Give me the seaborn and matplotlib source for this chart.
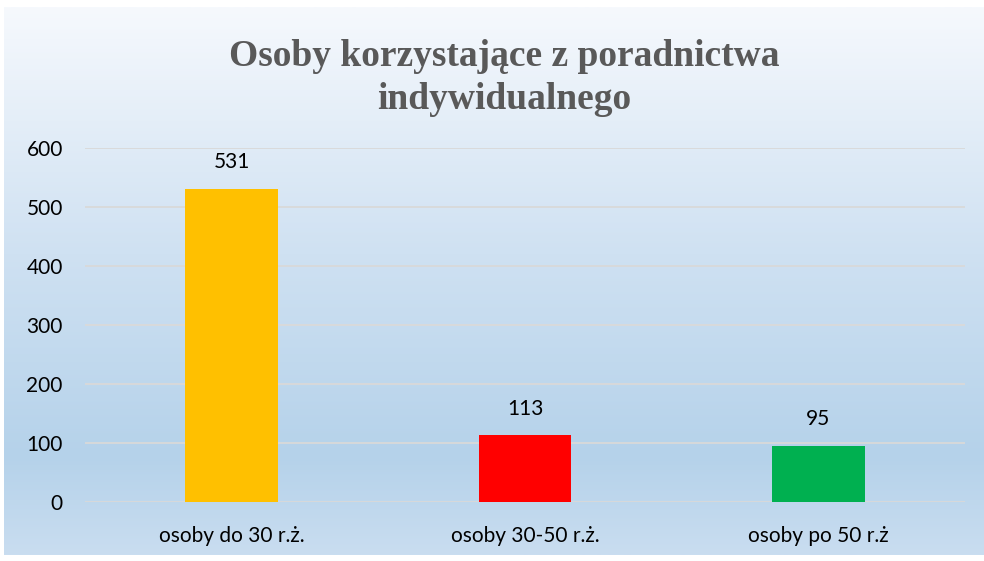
import numpy as np
import pandas as pd
import seaborn as sns
import matplotlib.pyplot as plt
from matplotlib.colors import LinearSegmentedColormap

# data
categories = ['osoby do 30 r.ż.', 'osoby 30-50 r.ż.', 'osoby po 50 r.ż']
values = [531, 113, 95]
bar_colors = ['#FFC000', '#FF0000', '#00B050']
title = 'Osoby korzystające z poradnictwa\nindywidualnego'

df = pd.DataFrame({'kategoria': categories, 'liczba': values})

sns.set_theme(style='white')
plt.rcParams['font.family'] = ['Lato', 'DejaVu Sans']

fig = plt.figure(figsize=(9.84, 5.61), dpi=100)
fig.patch.set_facecolor('white')

# gradient background panel (Excel style)
bg = fig.add_axes([4 / 984, 6 / 561, 980 / 984, 548 / 561], zorder=0)
grad = LinearSegmentedColormap.from_list(
    'bg', [(0.0, '#c9ddf0'), (0.18, '#b5d2ea'), (0.55, '#cfe1f2'), (1.0, '#f6f9fd')])
bg.imshow(np.linspace(0, 1, 256).reshape(-1, 1), aspect='auto', cmap=grad,
          origin='lower', extent=[0, 1, 0, 1])
bg.axis('off')

ax = fig.add_axes([85 / 984, 59 / 561, 880 / 984, 354 / 561], zorder=1)
ax.patch.set_alpha(0)

sns.barplot(data=df, x='kategoria', y='liczba', hue='kategoria',
            palette=bar_colors, width=0.315, legend=False, ax=ax,
            saturation=1, linewidth=0)

ax.set_ylim(0, 600)
ax.set_xlim(-0.5, 2.5)
ax.set_yticks(range(0, 601, 100))
ax.yaxis.grid(True, color='#d9d9d9', linewidth=1.3)
ax.set_axisbelow(True)
for s in ax.spines.values():
    s.set_visible(False)
ax.set_xlabel('')
ax.set_ylabel('')
ax.tick_params(axis='y', labelsize=15, colors='black', pad=16, length=0)
ax.tick_params(axis='x', labelsize=15, colors='black', pad=17, length=0)

for i, v in enumerate(values):
    ax.annotate(str(v), (i, v), xytext=(0, 12), textcoords='offset points',
                ha='center', va='bottom', fontsize=15, color='black')

fig.text(0.512, 0.861, title, ha='center', va='center', fontsize=27,
         fontweight='bold', color='#595959', family=['Liberation Serif', 'DejaVu Serif'],
         linespacing=1.3)

fig.savefig('out.png', dpi=100)
